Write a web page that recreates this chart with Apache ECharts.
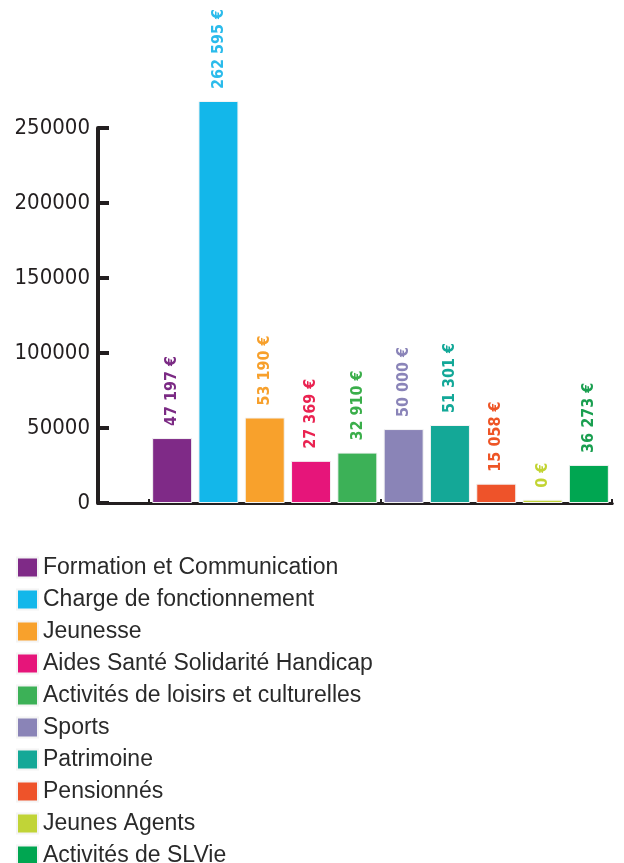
<!DOCTYPE html>
<html>
<head>
<meta charset="utf-8">
<script src="https://cdn.jsdelivr.net/npm/echarts@6/dist/echarts.min.js"></script>
<style>
  html, body { margin: 0; padding: 0; background: #fff; }
  #chart { width: 624px; height: 863px; }
</style>
</head>
<body>
<div id="chart"></div>
<script>
// Budget by activity - bar chart with rotated euro labels

const categories = [
    'Formation et Communication',
    'Charge de fonctionnement',
    'Jeunesse',
    'Aides Santé Solidarité Handicap',
    'Activités de loisirs et culturelles',
    'Sports',
    'Patrimoine',
    'Pensionnés',
    'Jeunes Agents',
    'Activités de SLVie'
];
// bar heights as drawn in the picture
const barValues = [43300, 268000, 57000, 28100, 33600, 49300, 52000, 12900, 2200, 25400];
// printed labels above the bars
const labelTexts = ['47 197 €', '262 595 €', '53 190 €', '27 369 €', '32 910 €', '50 000 €', '51 301 €', '15 058 €', '0 €', '36 273 €'];
const barColors = ['#7f2a87', '#13b7ea', '#f8a12c', '#e6157a', '#3cb157', '#8a84b7', '#14a897', '#ee532a', '#c1d437', '#00a651'];
const labelColors = ['#7b2a84', '#2bbbeb', '#f7a02c', '#ea2351', '#3aae4a', '#8a84b8', '#13a898', '#ee5526', '#c2d433', '#1a9f50'];
const yTicks = [0, 50000, 100000, 150000, 200000, 250000];

document.addEventListener('DOMContentLoaded', function() {
    const chart = echarts.init(document.getElementById('chart'));

    const series = categories.map(function(name, i) {
        const data = categories.map(function(c, j) { return j === i ? barValues[j] : '-'; });
        return {
            name: name,
            type: 'bar',
            stack: 'all',
            barWidth: 40,
            clip: false,
            data: data,
            itemStyle: { color: barColors[i], borderColor: '#f4f4f4', borderWidth: 1 },
            label: {
                show: true,
                position: 'top',
                rotate: 90,
                align: 'left',
                verticalAlign: 'middle',
                distance: 12,
                formatter: function() { return labelTexts[i]; },
                color: labelColors[i],
                fontFamily: '"DejaVu Sans Condensed", sans-serif',
                fontWeight: 'bold',
                fontSize: 16
            }
        };
    });

    const option = {
        animation: false,
        grid: [
            { left: 149, right: 12, top: 128, bottom: 360, outerBoundsMode: 'none', containLabel: false },
            { left: 98, right: 12, top: 128, bottom: 360, outerBoundsMode: 'none', containLabel: false }
        ],
        legend: {
            orient: 'vertical',
            left: 16,
            top: 556,
            height: 420,
            padding: 0,
            itemWidth: 21,
            itemHeight: 20,
            itemGap: 9,
            icon: 'rect',
            selectedMode: false,
            data: categories,
            textStyle: {
                fontFamily: '"Liberation Sans", Arial, sans-serif',
                fontSize: 23,
                color: '#2a2a2a',
                padding: [0, 0, 0, 0]
            }
        },
        xAxis: [
            {
                type: 'category',
                gridIndex: 0,
                data: categories,
                axisLine: { lineStyle: { color: '#231f20', width: 3 } },
                axisTick: { show: true, inside: true, length: 4, lineStyle: { color: '#231f20', width: 2 } },
                axisLabel: { show: false }
            },
            {
                type: 'value',
                gridIndex: 1,
                axisLine: { show: true, onZero: false, lineStyle: { color: '#231f20', width: 3 } },
                axisTick: { show: false },
                axisLabel: { show: false },
                splitLine: { show: false }
            }
        ],
        yAxis: [
            {
                type: 'value',
                gridIndex: 0,
                min: yTicks[0],
                max: yTicks[yTicks.length - 1],
                interval: 50000,
                offset: 51,
                axisLine: { show: true, lineStyle: { color: '#231f20', width: 4 } },
                axisTick: { show: true, inside: true, length: 11, lineStyle: { color: '#231f20', width: 4 } },
                axisLabel: {
                    margin: 8,
                    color: '#231f20',
                    formatter: function(v) { return String(v); },
                    fontFamily: '"DejaVu Sans Condensed", sans-serif',
                    fontSize: 22
                },
                splitLine: { show: false }
            },
            {
                type: 'value',
                gridIndex: 1,
                show: false
            }
        ],
        series: series
    };

    chart.setOption(option);
});
</script>
</body>
</html>
